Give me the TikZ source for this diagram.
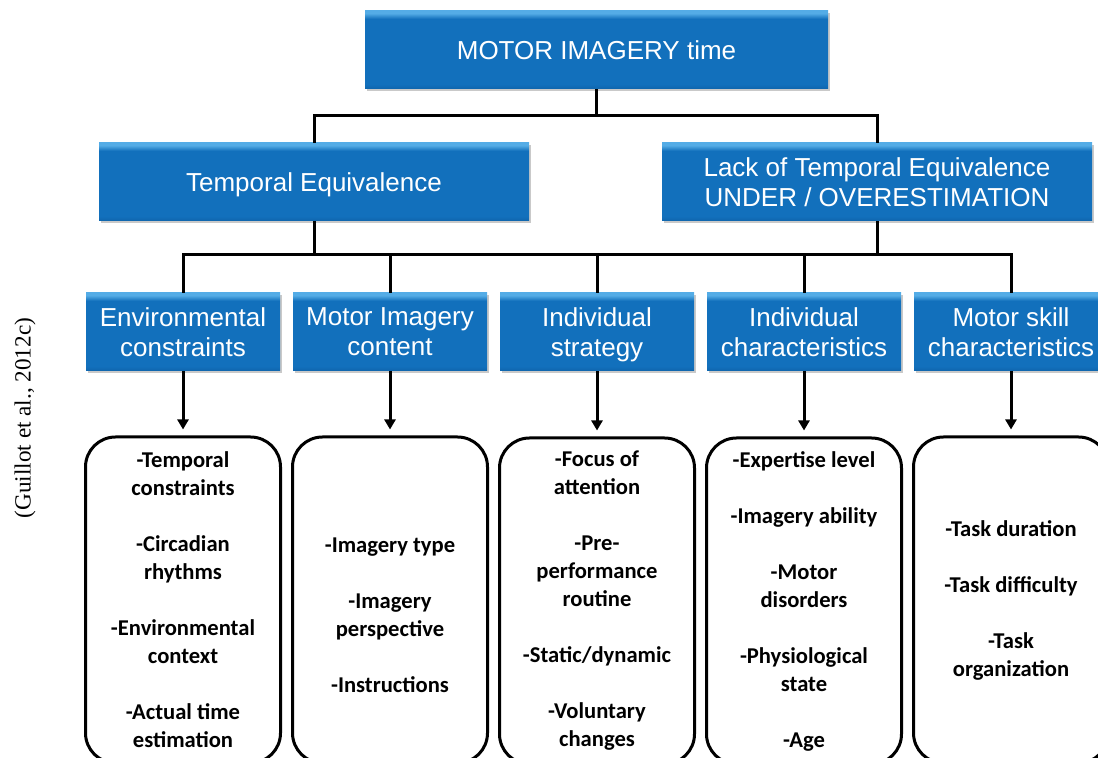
\documentclass[tikz,border=0pt]{standalone}
\usepackage{fontspec}
\usepackage{tikz}
\usetikzlibrary{arrows.meta,shadows}
\newfontfamily\boxfont{Liberation Sans}
\newfontfamily\listfont{Carlito}
\newfontfamily\citefont{Liberation Serif}
\definecolor{boxblue}{RGB}{18,112,188}
\definecolor{boxlight}{RGB}{84,172,230}
\definecolor{boxdark}{RGB}{14,100,172}
\pgfdeclareverticalshading{bevelblue}{100bp}{color(0bp)=(boxdark); color(25bp)=(boxdark);
  color(28bp)=(boxblue); color(70bp)=(boxblue); color(73.5bp)=(boxlight); color(100bp)=(boxlight)}
\newcommand{\nextitem}{\\[14pt]}
\newcommand{\topstrut}{\rule{0pt}{13.8pt}}

\begin{document}
\begin{tikzpicture}[x=0.5pt, y=-0.5pt,
  bluebase/.style={shade, shading=bevelblue, text=white, align=center,
    font=\boxfont\fontsize{13}{15}\selectfont, minimum height=39pt, inner sep=2pt,
    drop shadow={shadow xshift=1.2pt, shadow yshift=-1.2pt, opacity=0.3, fill=black!70}},
  bluebox/.style={bluebase, execute at begin node=\topstrut, execute at end node=\strut},
  twobox/.style={bluebase},
  listbox/.style={draw, line width=1.5pt, rounded corners=15pt, align=center,
    minimum width=97.5pt, minimum height=163pt,
    font=\listfont\bfseries\fontsize{11.3}{14}\selectfont},
  link/.style={line width=1.5pt},
  arrow/.style={link, -{Triangle[width=5.5pt,length=5pt]}, shorten >=3pt}]
  \useasboundingbox (0,0) rectangle (1098,758);

  \node [bluebox, minimum width=231.5pt] (top) at (596.5,50)
    {MOTOR IMAGERY time};
  \node [bluebox, minimum width=215pt] (eq) at (314,182)
    {Temporal Equivalence};
  \node [twobox, minimum width=215pt] (lack) at (877,182)
    {Lack of Temporal Equivalence\\UNDER / OVERESTIMATION};

  \node [twobox, minimum width=97pt] (c1) at (183,332)
    {Environmental\\constraints};
  \node [twobox, minimum width=97pt] (c2) at (390,332)
    {Motor Imagery\\content};
  \node [twobox, minimum width=97pt] (c3) at (597,332)
    {Individual\\\smash{strategy}};
  \node [twobox, minimum width=97pt] (c4) at (804,332)
    {Individual\\characteristics};
  \node [twobox, minimum width=97pt] (c5) at (1011,332)
    {Motor skill\\characteristics};

  \node [listbox] (l1) at (183,600)
    {-Temporal\\constraints\nextitem -Circadian\\rhythms\nextitem
     -Environmental\\context\nextitem -Actual time\\estimation};
  \node [listbox] (l2) at (390,600)
    {\mbox{}\\[9pt]-Imagery type\nextitem -Imagery\\perspective\nextitem -Instructions};
  \node [listbox] (l3) at (597,601)
    {-Focus of\\attention\nextitem -Pre-\\performance\\routine\nextitem
     -Static/dynamic\nextitem -Voluntary\\changes};
  \node [listbox] (l4) at (804,601)
    {-Expertise level\nextitem -Imagery ability\nextitem -Motor\\disorders\nextitem
     -Physiological\\state\nextitem -Age};
  \node [listbox] (l5) at (1011,600)
    {-Task duration\nextitem -Task difficulty\nextitem -Task\\organization};

  \node [font=\citefont\fontsize{11.6}{13}\selectfont, rotate=90] (cite) at (25,418)
    {(Guillot et al., 2012c)};

  \coordinate (j1) at (596.5,116);
  \coordinate (j2) at (597,255);
  \draw [link] (top.south) -- (j1);
  \draw [link] (eq.north) |- (j1) -| (lack.north);
  \draw [link] (eq.south) -- (eq.south |- j2);
  \draw [link] (lack.south) -- (lack.south |- j2);
  \draw [link] (c1.north) |- (j2) -| (c5.north);
  \foreach \i in {2,3,4}
    \draw [link] (c\i.north) -- (c\i.north |- j2);
  \foreach \i in {1,...,5}
    \draw [arrow] (c\i.south) -- (l\i.north);
\end{tikzpicture}
\end{document}
